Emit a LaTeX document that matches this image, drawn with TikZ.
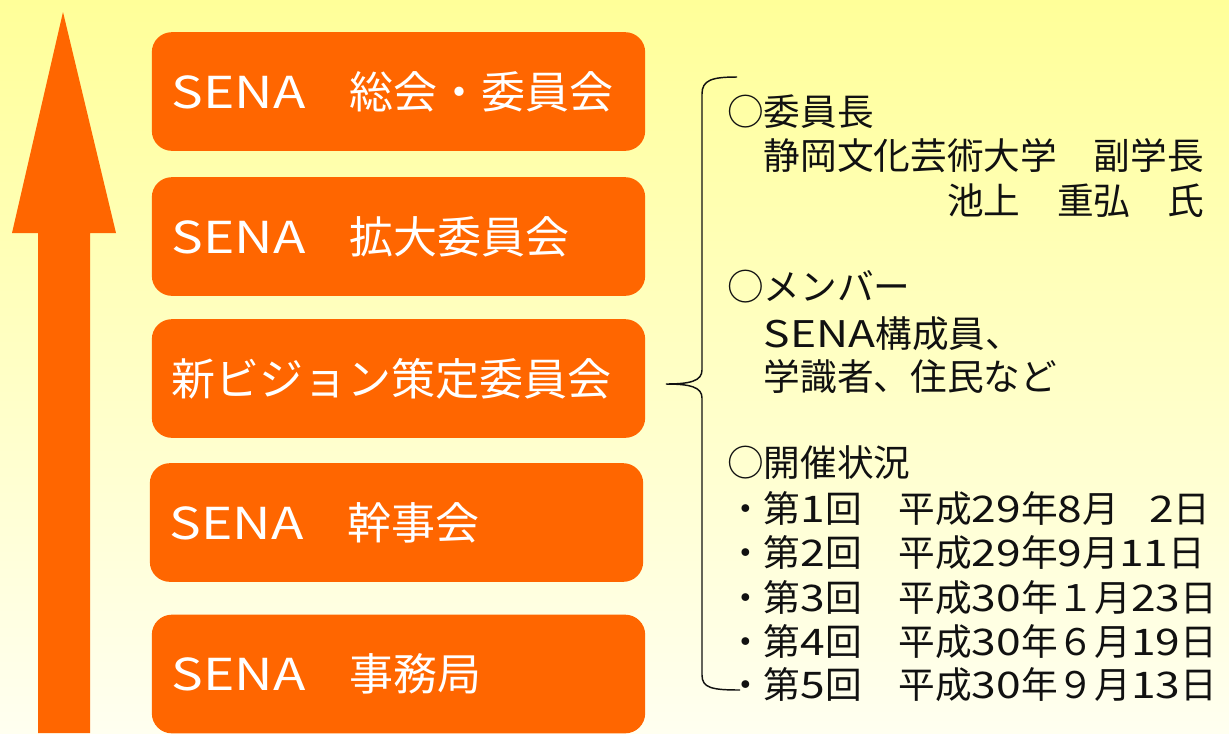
\documentclass[tikz,border=0pt]{standalone}
\usepackage{fontspec}
\setmainfont{Noto Sans CJK JP}
\newfontfamily\widelat[FakeStretch=1.21]{Noto Sans CJK JP}
\newcommand{\latw}[1]{{\widelat #1}}
\definecolor{bgtop}{HTML}{FFFF99}
\definecolor{bgbot}{HTML}{FFFFF0}
\definecolor{sorange}{HTML}{FF6600}
\definecolor{txtc}{HTML}{111111}
\tikzset{
  stagebox/.style={rectangle, rounded corners=15pt, fill=sorange, draw=none,
    minimum width=370pt, minimum height=89pt, text width=340pt, inner xsep=15pt,
    align=left, text=white, font=\fontsize{33}{40}\selectfont},
  infoline/.style={anchor=base west, inner sep=0pt, text=txtc,
    font=\fontsize{27.5}{33}\selectfont},
  bracec/.style={draw=txtc, line width=1.1pt}
}
\begin{document}
\begin{tikzpicture}[x=0.75pt,y=-0.75pt]
\useasboundingbox (0,0) rectangle (1229,733);
\fill[top color=bgtop, bottom color=bgbot] (0,0) rectangle (1229,733);
% upward arrow
\fill[sorange] (63,12) -- (116,233) -- (90,233) -- (90,733) -- (38,733) -- (38,233) -- (12,233) -- cycle;
% boxes
\node[stagebox] (b1) at (398.5,91.5) {\latw{SENA}　総会・委員会};
\node[stagebox] (b2) at (398.5,236.5) {\latw{SENA}　拡大委員会};
\node[stagebox] (b3) at (398.5,378.5) {新ビジョン策定委員会};
\node[stagebox] (b4) at (396.5,522.5) {\latw{SENA}　幹事会};
\node[stagebox] (b5) at (398.5,674) {\latw{SENA}　事務局};
% brace
\coordinate (btop) at (737,77);
\coordinate (btip) at (666,384);
\coordinate (bbot) at (740,690);
\draw[bracec] (btop) .. controls (712,77) and (702,80) .. (702,94) -- (702,370)
  .. controls (702,381) and (690,384) .. (btip)
  .. controls (690,384) and (702,387) .. (702,398) -- (702,675)
  .. controls (702,688) and (712,690) .. (bbot);
% info text
\node[infoline] (t1) at (727,125) {○委員長};
\node[infoline] (t2) at (727,169) {　静岡文化芸術大学　副学長};
\node[infoline] (t3) at (727,214) {　　　　　　池上　重弘　氏};
\node[infoline] (t4) at (727,300) {○メンバー};
\node[infoline] (t5) at (727,347) {　\latw{SENA}構成員、};
\node[infoline] (t6) at (727,390) {　学識者、住民など};
\node[infoline] (t7) at (727,476) {○開催状況};
\node[infoline] (t8) at (727,522) {・第\latw{1}回　平成\latw{29}年\latw{8}月\latw{ \hspace{0.55em}2}日};
\node[infoline] (t9) at (727,566) {・第\latw{2}回　平成\latw{29}年\latw{9}月\latw{11}日};
\node[infoline] (t10) at (727,611) {・第\latw{3}回　平成\latw{30}年１月\latw{23}日};
\node[infoline] (t11) at (727,655) {・第\latw{4}回　平成\latw{30}年６月\latw{19}日};
\node[infoline] (t12) at (727,698) {・第\latw{5}回　平成\latw{30}年９月\latw{13}日};
\end{tikzpicture}
\end{document}
